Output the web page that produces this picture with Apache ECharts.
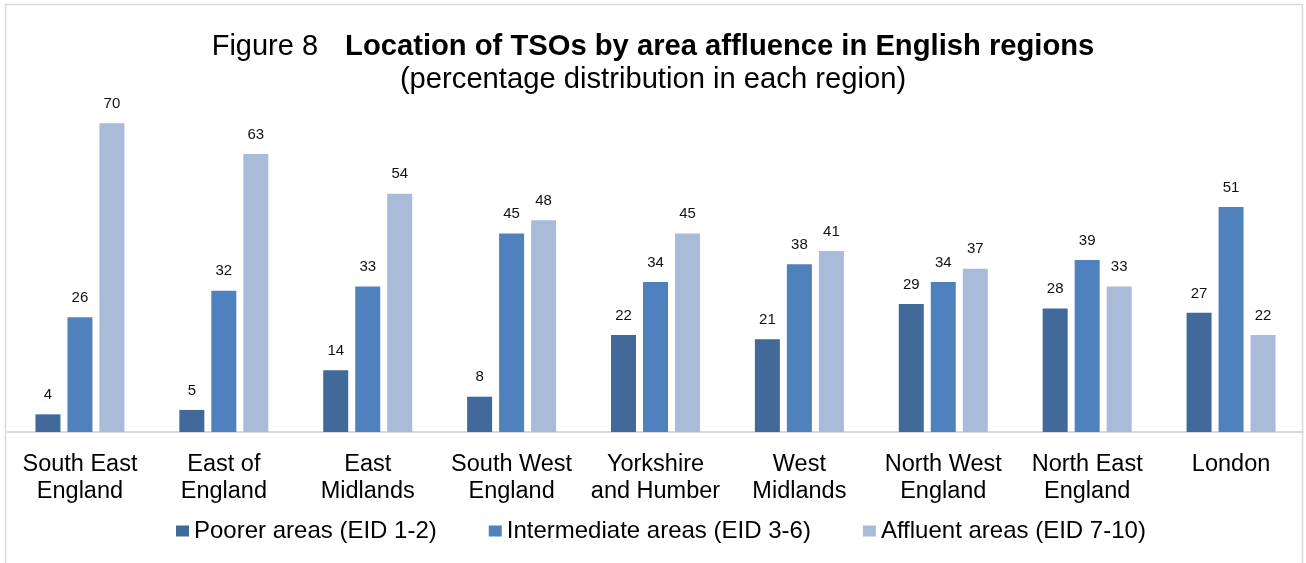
<!DOCTYPE html>
<html>
<head>
<meta charset="utf-8">
<script src="https://cdn.jsdelivr.net/npm/echarts@6/dist/echarts.min.js"></script>
<style>
 html,body{margin:0;padding:0;background:#fff;}
 #main{width:1306px;height:563px;}
</style>
</head>
<body>
<div id="main"></div>
<script>
 var regions = ['South East\nEngland', 'East of\nEngland', 'East\nMidlands', 'South West\nEngland',
   'Yorkshire\nand Humber', 'West\nMidlands', 'North West\nEngland', 'North East\nEngland', 'London'];
 var poorer = [4, 5, 14, 8, 22, 21, 29, 28, 27];
 var intermediate = [26, 32, 33, 45, 34, 38, 34, 39, 51];
 var affluent = [70, 63, 54, 48, 45, 41, 37, 33, 22];
 var seriesNames = ['Poorer areas (EID 1-2)', 'Intermediate areas (EID 3-6)', 'Affluent areas (EID 7-10)'];

 var myChart;

 function barSeries(name, data, color){
   return {
     name: name,
     type: 'bar',
     data: data,
     barWidth: 25,
     barGap: '28%',
     itemStyle: { color: color },
     label: {
       show: true,
       position: 'top',
       distance: 12,
       fontSize: 15,
       color: '#111',
       fontFamily: 'Liberation Sans'
     }
   };
 }

 function showEcharts(){
   myChart = echarts.init(document.getElementById('main'));
   myChart.setOption({
     animation: false,
     textStyle: { fontFamily: 'Liberation Sans' },
     title: [{
       text: '{n|Figure 8}{b|Location of TSOs by area affluence in English regions}',
       left: 'center',
       top: 27,
       textStyle: {
         rich: {
           n: { fontSize: 29, fontWeight: 'normal', color: '#000', fontFamily: 'Liberation Sans', padding: [0, 27, 0, 0] },
           b: { fontSize: 29.2, fontWeight: 'bold', color: '#000', fontFamily: 'Liberation Sans' }
         }
       }
     }, {
       text: '(percentage distribution in each region)',
       left: 'center',
       top: 60,
       textStyle: { fontSize: 29.2, fontWeight: 'normal', color: '#000', fontFamily: 'Liberation Sans' }
     }],
     legend: {
       data: seriesNames,
       bottom: 20,
       left: 176,
       padding: 0,
       itemWidth: 13,
       itemHeight: 11,
       itemGap: 52,
       icon: 'rect',
       textStyle: { fontSize: 24, color: '#000', padding: [0, 0, 0, 0] }
     },
     grid: { left: 8, right: 3, top: 79, bottom: 131, containLabel: false },
     xAxis: {
       type: 'category',
       data: regions,
       axisLine: { lineStyle: { color: '#d9d9d9', width: 2 } },
       axisTick: { show: false },
       axisLabel: { fontSize: 23.5, lineHeight: 27, color: '#000', margin: 19, interval: 0 }
     },
     yAxis: {
       type: 'value',
       min: 0,
       max: 80,
       show: false,
       splitLine: { show: false }
     },
     graphic: [{
       type: 'rect',
       shape: { x: 5.5, y: 4.5, width: 1297, height: 620 },
       style: { fill: 'none', stroke: '#d9d9d9', lineWidth: 1.5 },
       silent: true
     }],
     series: [
       barSeries(seriesNames[0], poorer, '#41699a'),
       barSeries(seriesNames[1], intermediate, '#4f81bd'),
       barSeries(seriesNames[2], affluent, '#aabad9')
     ]
   });
 }

 showEcharts();
</script>
</body>
</html>
